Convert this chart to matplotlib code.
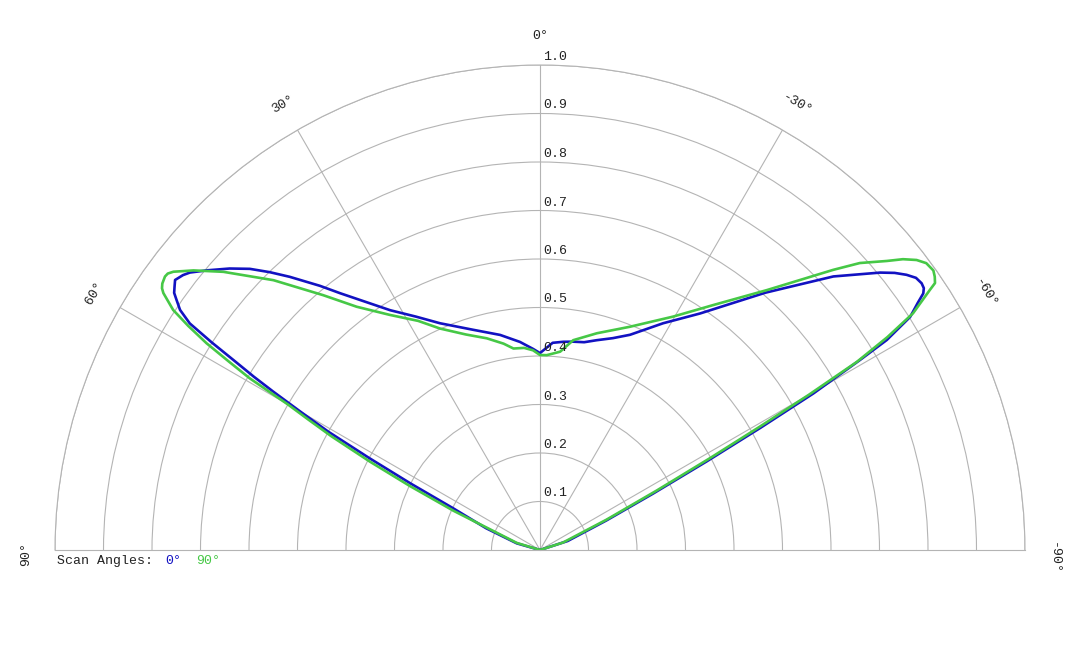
import numpy as np
import matplotlib
matplotlib.use("Agg")
import matplotlib.pyplot as plt
from matplotlib.transforms import offset_copy

# ---- data (angle in degrees, normalized radius) ----
blue_theta = [90, 74, 68, 64.3, 62.8, 61.7, 60.8, 60.0, 59.3, 58.8, 58.2, 57.7, 57.1,
              56.3, 55.5, 54.9, 54.2, 53.5, 52.4, 51.6, 50.0, 47.8, 45.9, 44.2, 42.5,
              39.8, 37.9, 32.0, 28.0, 23.8, 17.0, 10.5, 5.5, 2.0, 0.0, -1.5, -3.5,
              -6.4, -9.1, -12.0, -15.1, -19.0, -22.7, -28.5, -34.1, -41.2, -47.0,
              -50.8, -52.0, -53.1, -54.1, -55.05, -55.7, -56.2, -56.8, -57.8, -58.8,
              -59.3, -60.2, -61.0, -62.0, -63.5, -66.0, -72.0, -90]
blue_r = [0.0, 0.05, 0.12, 0.20, 0.30, 0.40, 0.50, 0.57, 0.64, 0.69, 0.745, 0.80, 0.86,
          0.892, 0.909, 0.922, 0.929, 0.936, 0.929, 0.921, 0.897, 0.864, 0.833, 0.799, 0.764,
          0.709, 0.671, 0.583, 0.545, 0.511, 0.475, 0.451, 0.431, 0.415, 0.406, 0.415,
          0.428, 0.432, 0.435, 0.438, 0.448, 0.462, 0.481, 0.532, 0.589, 0.705, 0.827,
          0.905, 0.928, 0.945, 0.957, 0.960, 0.958, 0.951, 0.931, 0.902, 0.836,
          0.767, 0.65, 0.52, 0.39, 0.26, 0.15, 0.06, 0.0]

green_theta = [90, 73, 65.6, 63.8, 62.55, 61.4, 60.6, 60.0, 59.4, 58.8, 58.2, 57.5, 56.8,
               55.7, 55.3, 54.8, 53.9, 53.4, 52.8, 52.0, 51.1, 48.7, 44.65, 40.4, 37.0,
               32.55, 28.0, 24.3, 19.0, 14.1, 10.0, 7.5, 4.5, 2.0, 0.0, -2.0, -5.8, -9.0,
               -14.7, -21.9, -29.7, -35.3, -41.1, -46.3, -48.1, -50.2, -51.3, -52.4,
               -53.4, -54.6, -55.3, -55.95, -56.3, -57.6, -58.5, -59.3, -60.0, -60.7,
               -61.6, -63.0, -65.5, -72.0, -90]
green_r = [0.0, 0.05, 0.196, 0.30, 0.395, 0.49, 0.55, 0.60, 0.695, 0.75, 0.809, 0.86, 0.904,
           0.940, 0.948, 0.953, 0.957, 0.956, 0.949, 0.934, 0.918, 0.869, 0.782, 0.69, 0.628,
           0.575, 0.535, 0.501, 0.47, 0.45, 0.432, 0.419, 0.418, 0.412, 0.402, 0.402, 0.411,
           0.438, 0.462, 0.496, 0.554, 0.619, 0.711, 0.836, 0.886, 0.931, 0.959, 0.980,
           0.992, 0.995, 0.990, 0.983, 0.966, 0.911, 0.84, 0.76, 0.64, 0.52,
           0.40, 0.27, 0.15, 0.05, 0.0]

r_ticks = [0.1, 0.2, 0.3, 0.4, 0.5, 0.6, 0.7, 0.8, 0.9, 1.0]
theta_ticks = [90, 60, 30, 0, -30, -60, -90]
theta_labels = ["90°", "60°", "30°", "0°", "-30°", "-60°", "-90°"]
legend_labels = ["0°", "90°"]

BLUE = "#1212c2"
GREEN = "#46c846"
GRID = "#b4b4b4"
FONT = "Liberation Mono"
FS = 9.5

W, H = 1080, 648
cx, cy, R = 540, 550, 485  # pixel centre and radius of the half disk

fig = plt.figure(figsize=(W / 100, H / 100), dpi=100)
# polar axes keeps a square box; the half wedge sits centred vertically in it
side = 2 * R
top = cy - R - R / 2
ax = fig.add_axes([(cx - R) / W, (H - (top + side)) / H, side / W, side / H],
                  projection="polar")
ax.set_theta_zero_location("N")
ax.set_theta_direction(1)
ax.set_thetamin(-90)
ax.set_thetamax(90)
ax.set_ylim(0, 1.0)
ax.set_rticks(r_ticks)
ax.set_yticklabels([])
ax.set_thetagrids([-60, -30, 0, 30, 60], labels=[""] * 5)
ax.grid(True, color=GRID, linewidth=0.8)
ax.tick_params(length=0)
for sp in ax.spines.values():
    sp.set_color(GRID)
    sp.set_linewidth(0.8)

ax.plot(np.deg2rad(blue_theta), blue_r, color=BLUE, lw=1.9,
        solid_joinstyle="round", solid_capstyle="round")
ax.plot(np.deg2rad(green_theta), green_r, color=GREEN, lw=1.9,
        solid_joinstyle="round", solid_capstyle="round")

# radial labels
tr = offset_copy(ax.transData, fig=fig, x=3, y=8, units="dots")
for r in r_ticks:
    ax.text(0, r, f"{r:.1f}", transform=tr, ha="left", va="center",
            family=FONT, fontsize=FS, color="#222222")

# angle labels
for t, lab in zip(theta_ticks, theta_labels):
    tt = t
    if t == 90:
        tt = 90.5
    elif t == -90:
        tt = -90.9
    ax.text(np.deg2rad(tt), 1.06, lab, rotation=t, rotation_mode="anchor",
            ha="center", va="center", family=FONT, fontsize=FS, color="#222222",
            clip_on=False)

# legend
y_leg = 1 - 561 / 648
fig.text(57 / W, y_leg, "Scan Angles:", family=FONT, fontsize=FS,
         color="#222222", va="center", ha="left")
fig.text(165 / W, y_leg, legend_labels[0], family=FONT, fontsize=FS,
         color=BLUE, va="center", ha="left")
fig.text(196 / W, y_leg, legend_labels[1], family=FONT, fontsize=FS,
         color=GREEN, va="center", ha="left")

fig.savefig("out.png", dpi=100, facecolor="white")
